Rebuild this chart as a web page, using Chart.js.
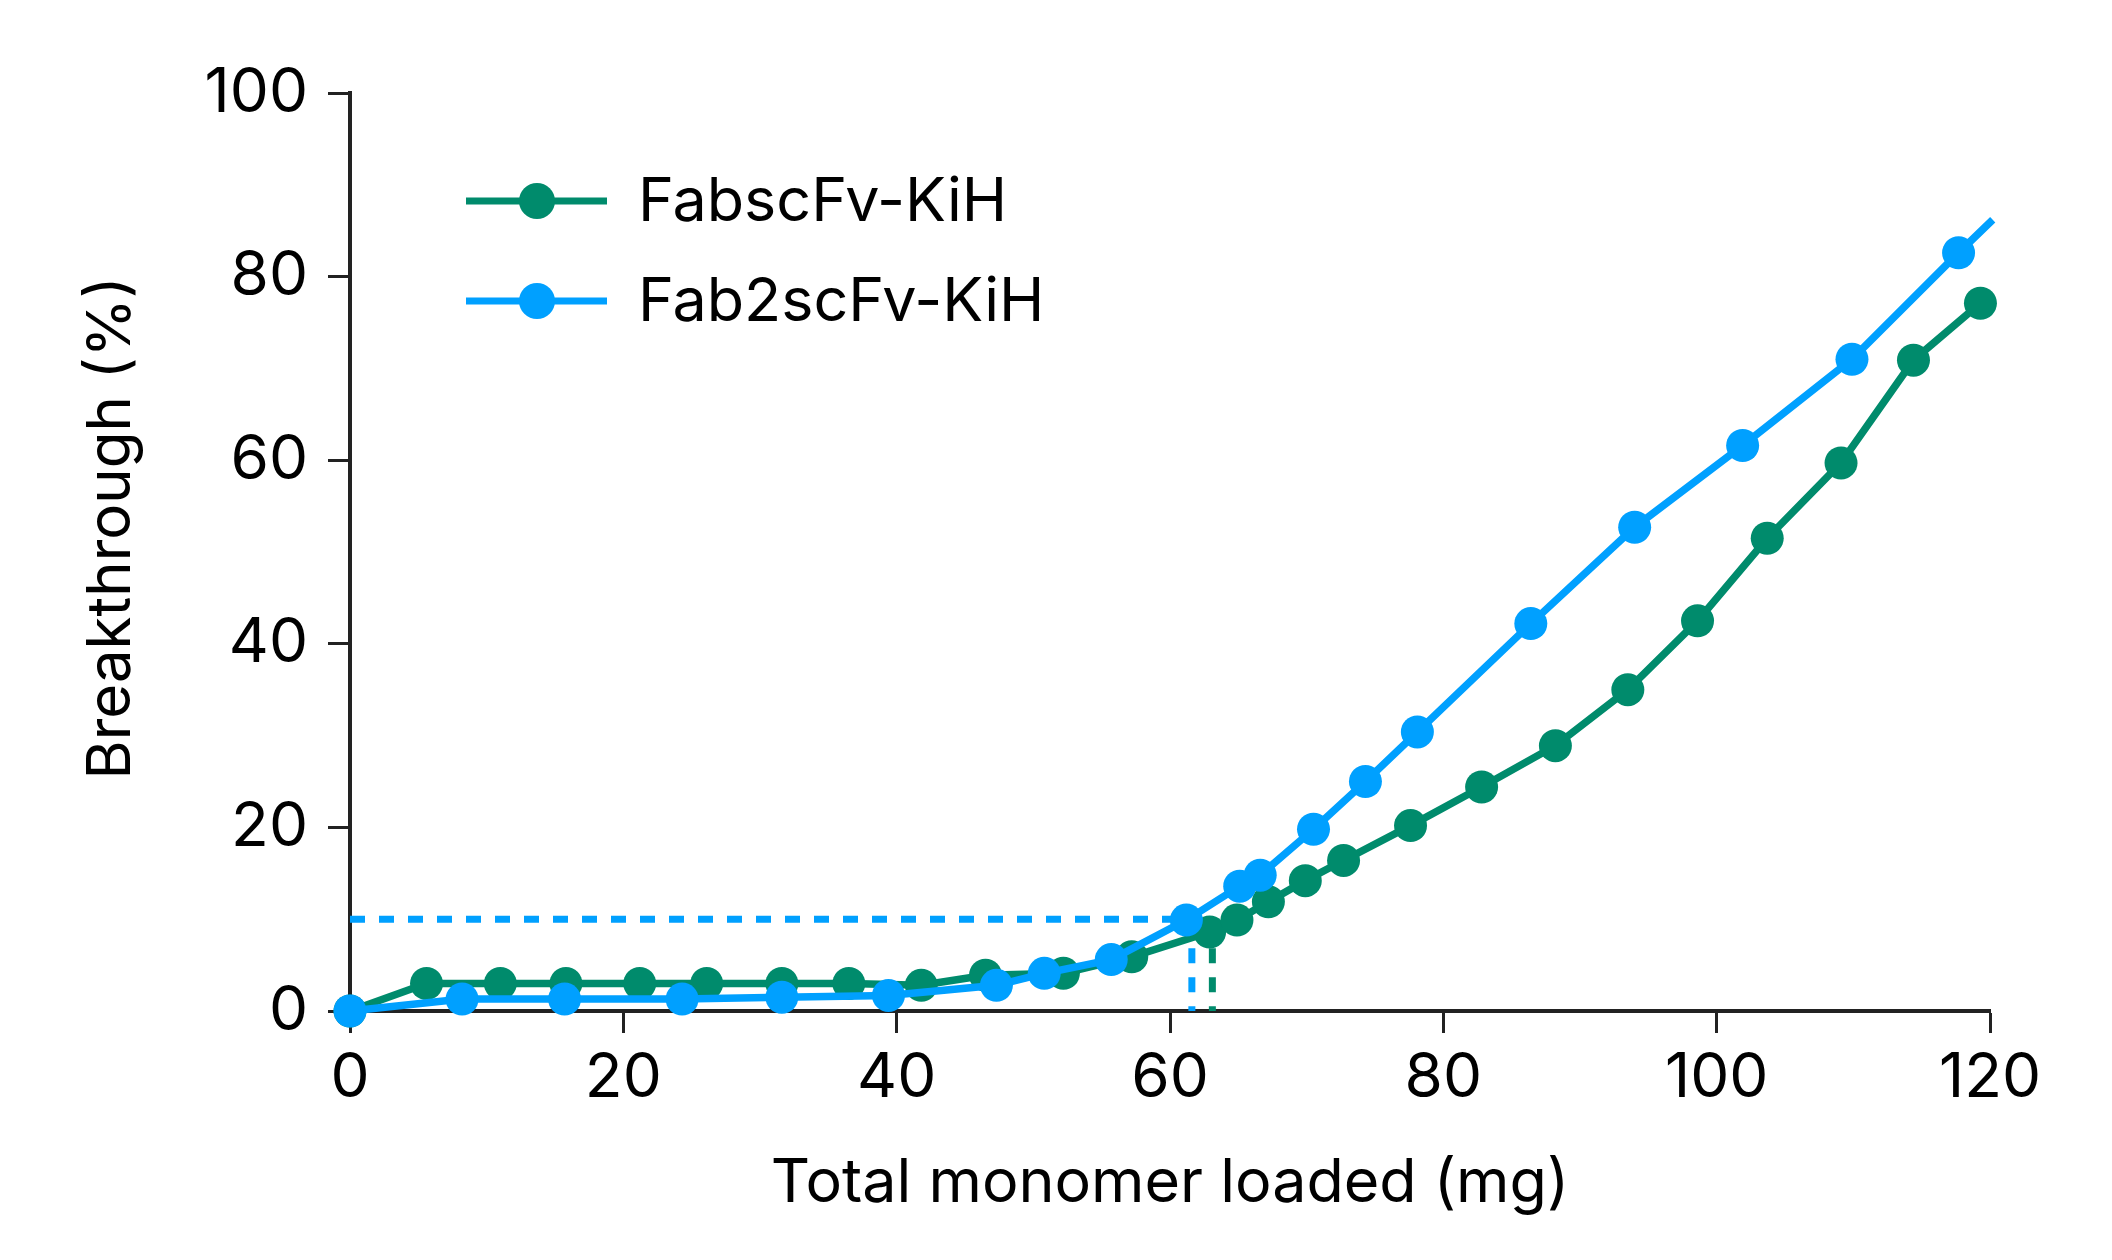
<!DOCTYPE html>
<html>
<head>
<meta charset="utf-8">
<script src="https://cdn.jsdelivr.net/npm/chart.js@4.4.0/dist/chart.umd.min.js"></script>
<style>
  html, body { margin: 0; padding: 0; background: #fff; }
</style>
</head>
<body>
<canvas id="chart" width="2112" height="1260"></canvas>
<script>
// --- data ---
const greenX = [0, 5.6, 11.0, 15.8, 21.2, 26.1, 31.6, 36.5, 41.8, 46.5, 52.2, 57.2, 62.9, 64.9, 67.2, 69.9, 72.7, 77.6, 82.8, 88.2, 93.5, 98.6, 103.7, 109.1, 114.4, 119.3];
const greenY = [0, 3.0, 3.0, 3.0, 3.0, 3.0, 3.0, 3.0, 2.8, 3.9, 4.1, 5.9, 8.6, 9.9, 11.9, 14.2, 16.4, 20.2, 24.4, 28.9, 35.0, 42.5, 51.5, 59.7, 70.9, 77.1];

const blueX = [0, 8.2, 15.7, 24.3, 31.6, 39.4, 47.3, 50.8, 55.7, 61.2, 65.1, 66.6, 70.5, 74.3, 78.1, 86.4, 94.0, 101.9, 109.9, 117.7, 120.2];
const blueY = [0, 1.3, 1.3, 1.3, 1.5, 1.7, 2.8, 4.1, 5.6, 9.9, 13.6, 14.8, 19.8, 25.0, 30.4, 42.2, 52.7, 61.6, 71.0, 82.6, 86.2];

// 10% breakthrough guide lines
const guideLevel = 10;
const blueGuideX = 61.6;
const greenGuideX = 63.1;

const seriesNames = ['FabscFv-KiH', 'Fab2scFv-KiH'];
const xTicks = [0, 20, 40, 60, 80, 100, 120];
const yTicks = [0, 20, 40, 60, 80, 100];
const xTitle = 'Total monomer loaded (mg)';
const yTitle = 'Breakthrough (%)';

const GREEN = '#008B6C';
const BLUE = '#00A0FF';
const AXIS = '#222222';
const FONT = 'Inter, "Noto Sans", sans-serif';

const toPts = (xs, ys) => xs.map((x, i) => ({ x: x, y: ys[i] }));

// last blue value is just where the line runs off, no marker there
const blueRadius = blueX.map((_, i) => i === blueX.length - 1 ? 0 : 16.5);

const guide = (pts, color) => ({
    data: pts,
    borderColor: color,
    borderWidth: 7,
    borderDash: [15, 14],
    pointRadius: 0,
    fill: false,
    order: 5
});

// legend + rotated y title drawn by hand
const overlay = {
    id: 'overlay',
    afterDraw(chart) {
        const ctx = chart.ctx;
        ctx.save();
        ctx.fillStyle = '#000';
        ctx.font = `60px ${FONT}`;
        ctx.textAlign = 'center';
        ctx.textBaseline = 'middle';
        ctx.translate(112, 528);
        ctx.rotate(-Math.PI / 2);
        ctx.fillText(yTitle, 0, 0);
        ctx.restore();

        const rows = [[seriesNames[0], GREEN, 201], [seriesNames[1], BLUE, 301]];
        rows.forEach(([label, color, y]) => {
            ctx.save();
            ctx.strokeStyle = color;
            ctx.lineWidth = 7;
            ctx.beginPath();
            ctx.moveTo(466, y);
            ctx.lineTo(607, y);
            ctx.stroke();
            ctx.fillStyle = color;
            ctx.beginPath();
            ctx.arc(537, y, 18, 0, Math.PI * 2);
            ctx.fill();
            ctx.fillStyle = '#000';
            ctx.font = `61px ${FONT}`;
            ctx.textAlign = 'left';
            ctx.textBaseline = 'middle';
            ctx.fillText(label, 638, y + 2);
            ctx.restore();
        });
    }
};

new Chart(document.getElementById('chart'), {
    type: 'line',
    data: {
        datasets: [
            {
                label: seriesNames[1],
                data: toPts(blueX, blueY),
                borderColor: BLUE,
                backgroundColor: BLUE,
                borderWidth: 7.5,
                pointRadius: blueRadius,
                pointBorderWidth: 0,
                tension: 0,
                order: 0
            },
            {
                label: seriesNames[0],
                data: toPts(greenX, greenY),
                borderColor: GREEN,
                backgroundColor: GREEN,
                borderWidth: 7.5,
                pointRadius: 16.5,
                pointBorderWidth: 0,
                tension: 0,
                order: 1
            },
            guide([{ x: 0, y: guideLevel }, { x: blueGuideX, y: guideLevel }], BLUE),
            guide([{ x: blueGuideX, y: guideLevel }, { x: blueGuideX, y: 0 }], BLUE),
            guide([{ x: greenGuideX, y: guideLevel }, { x: greenGuideX, y: 0 }], GREEN)
        ]
    },
    options: {
        responsive: false,
        devicePixelRatio: 1,
        animation: false,
        clip: false,
        layout: { padding: { left: 0, right: 122, top: 93, bottom: 0 } },
        plugins: {
            legend: { display: false },
            tooltip: { enabled: false }
        },
        scales: {
            x: {
                type: 'linear',
                min: 0,
                max: 120,
                afterBuildTicks: s => { s.ticks = xTicks.map(v => ({ value: v })); },
                afterFit: s => { s.height = 249; },
                border: { display: true, color: AXIS, width: 4 },
                grid: { drawOnChartArea: false, drawTicks: true, tickLength: 22, tickWidth: 3, tickColor: AXIS },
                ticks: { color: '#000', font: { family: FONT, size: 62 }, padding: 8, maxRotation: 0 },
                title: {
                    display: true,
                    text: xTitle,
                    color: '#000',
                    font: { family: FONT, size: 61 },
                    padding: { top: 0, bottom: 40 }
                }
            },
            y: {
                type: 'linear',
                min: 0,
                max: 100,
                afterBuildTicks: s => { s.ticks = yTicks.map(v => ({ value: v })); },
                afterFit: s => { s.width = 350; },
                border: { display: true, color: AXIS, width: 4 },
                grid: { drawOnChartArea: false, drawTicks: true, tickLength: 22, tickWidth: 3, tickColor: AXIS },
                ticks: { color: '#000', font: { family: FONT, size: 62 }, padding: 20 }
            }
        }
    },
    plugins: [overlay]
});
</script>
</body>
</html>
